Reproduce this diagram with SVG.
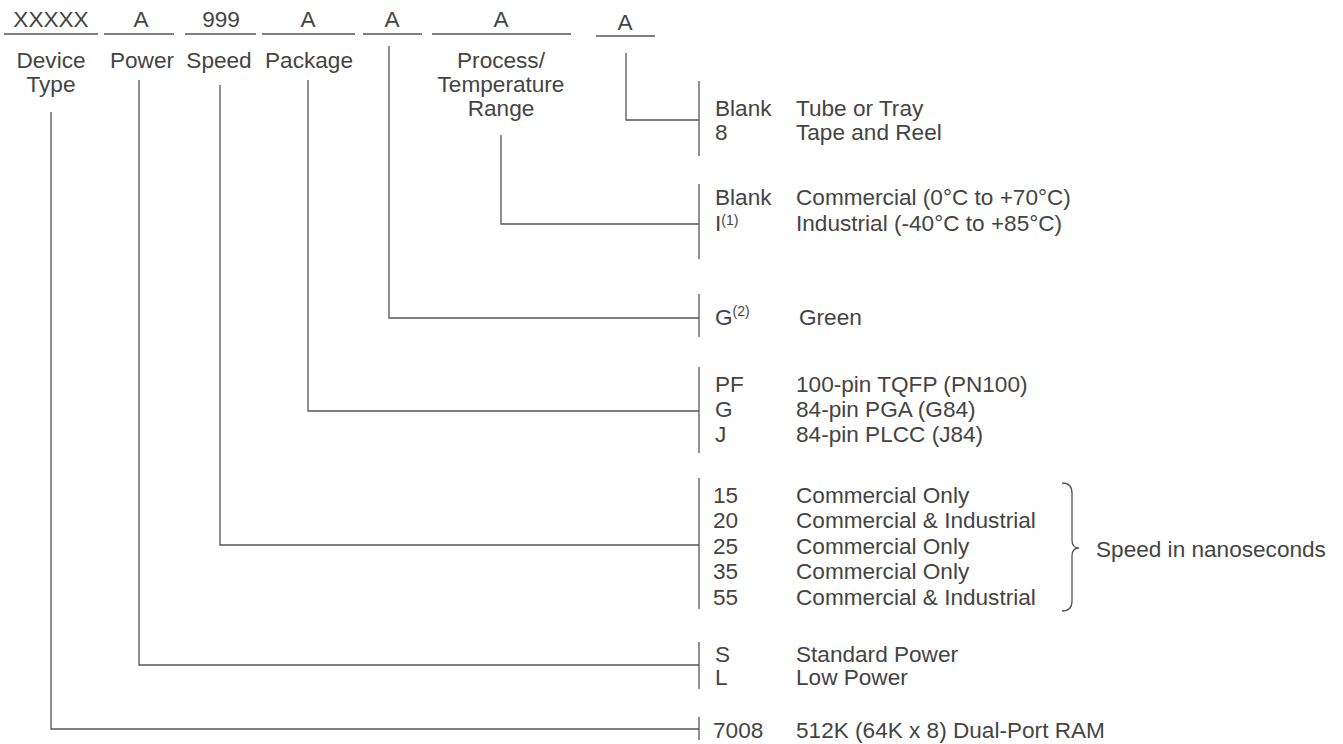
<svg xmlns="http://www.w3.org/2000/svg" width="1343" height="744" viewBox="0 0 1343 744">
<style>
text{font-family:"Liberation Sans",Arial,sans-serif;font-size:22.6px;fill:#444}
.c{text-anchor:middle}
.sup{font-size:14px}
.ln{stroke:#555;stroke-width:1.3;fill:none}
</style>
<rect width="1343" height="744" fill="#fff"/>
<g id="header">
<text class="c" x="51" y="27">XXXXX</text>
<text class="c" x="141" y="27">A</text>
<text class="c" x="221" y="27">999</text>
<text class="c" x="308" y="27">A</text>
<text class="c" x="392" y="27">A</text>
<text class="c" x="501" y="27">A</text>
<text class="c" x="625" y="30">A</text>
<path class="ln" d="M4 34H98M104 34H174M185 34H256M262 34H355M363 34H422M432 34H571M596 36H655"/>
</g>
<g id="field-labels">
<text class="c" x="51" y="68">Device</text>
<text class="c" x="51" y="92">Type</text>
<text class="c" x="142" y="68">Power</text>
<text class="c" x="219" y="68">Speed</text>
<text class="c" x="309" y="68">Package</text>
<text class="c" x="501" y="68">Process/</text>
<text class="c" x="501" y="92">Temperature</text>
<text class="c" x="501" y="116">Range</text>
</g>
<g id="connectors">
<path class="ln" d="M51 112V729H699"/>
<path class="ln" d="M139 80V665H699"/>
<path class="ln" d="M220 85V545H699"/>
<path class="ln" d="M308 80V411H699"/>
<path class="ln" d="M389 46V318H699"/>
<path class="ln" d="M501 135V224H699"/>
<path class="ln" d="M626 53V120H699"/>
</g>
<g id="packing">
<path class="ln" d="M699 81V156"/>
<text x="715" y="116">Blank</text><text x="796" y="116">Tube or Tray</text>
<text x="715" y="140">8</text><text x="796" y="140">Tape and Reel</text>
</g>
<g id="temperature">
<path class="ln" d="M699 184V259"/>
<text x="715" y="205">Blank</text><text x="796" y="205">Commercial (0°C to +70°C)</text>
<text x="715" y="231">I<tspan class="sup" dy="-6">(1)</tspan></text><text x="796" y="231">Industrial (-40°C to +85°C)</text>
</g>
<g id="green">
<path class="ln" d="M699 294V337"/>
<text x="715" y="325">G<tspan class="sup" dy="-9">(2)</tspan></text><text x="799" y="325">Green</text>
</g>
<g id="package">
<path class="ln" d="M699 367V453"/>
<text x="715" y="392">PF</text><text x="796" y="392">100-pin TQFP (PN100)</text>
<text x="715" y="417">G</text><text x="796" y="417">84-pin PGA (G84)</text>
<text x="715" y="442">J</text><text x="796" y="442">84-pin PLCC (J84)</text>
</g>
<g id="speed">
<path class="ln" d="M699 478V609"/>
<text x="713" y="503">15</text><text x="796" y="503">Commercial Only</text>
<text x="713" y="528">20</text><text x="796" y="528">Commercial &amp; Industrial</text>
<text x="713" y="554">25</text><text x="796" y="554">Commercial Only</text>
<text x="713" y="579">35</text><text x="796" y="579">Commercial Only</text>
<text x="713" y="605">55</text><text x="796" y="605">Commercial &amp; Industrial</text>
<path class="ln" d="M1062 483Q1072 483 1072 493V540Q1072 548 1079 548Q1072 548 1072 556V601Q1072 611 1062 611"/>
<text x="1096" y="557">Speed in nanoseconds</text>
</g>
<g id="power">
<path class="ln" d="M699 642V689"/>
<text x="715" y="662">S</text><text x="796" y="662">Standard Power</text>
<text x="715" y="685">L</text><text x="796" y="685">Low Power</text>
</g>
<g id="device">
<path class="ln" d="M699 717V740"/>
<text x="713" y="738">7008</text><text x="796" y="738">512K (64K x 8) Dual-Port RAM</text>
</g>
</svg>
